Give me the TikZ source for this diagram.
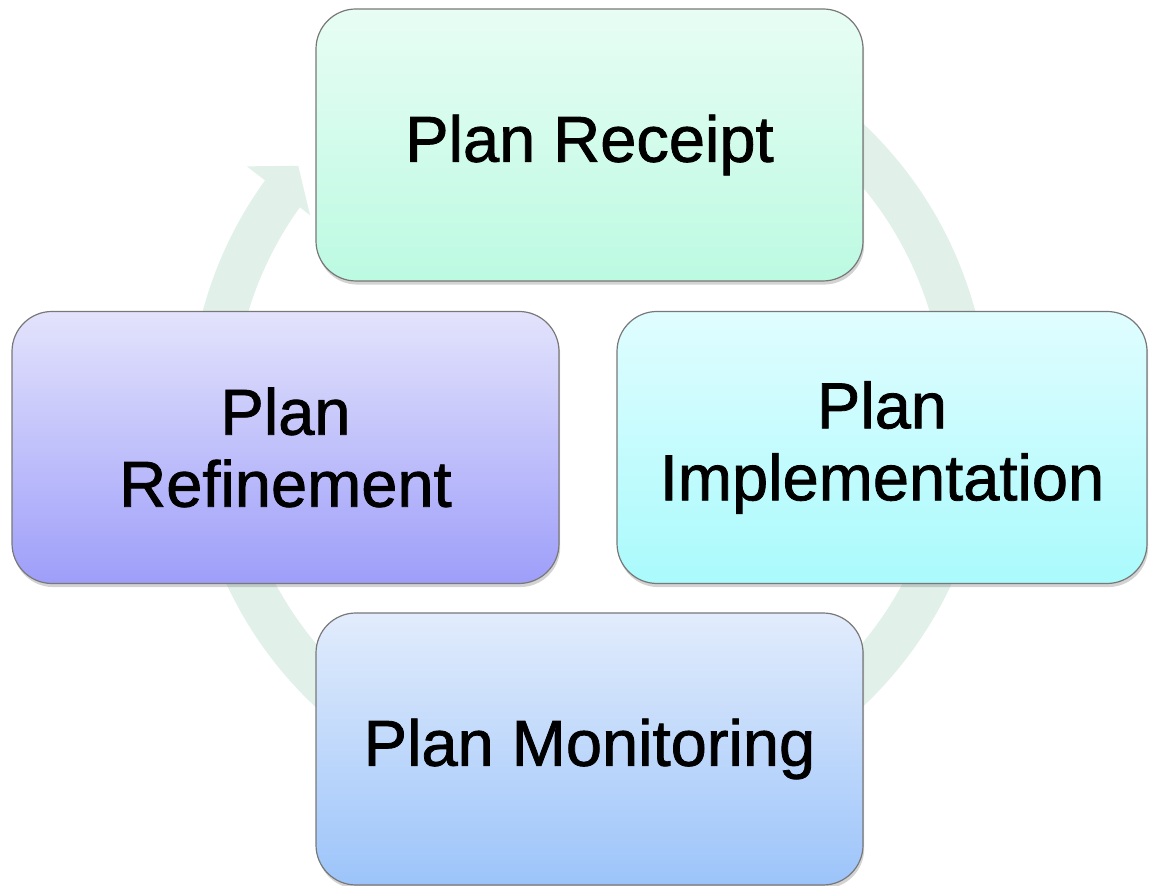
\documentclass[tikz,border=0pt]{standalone}
\usepackage{fontspec}
\setmainfont{Liberation Sans}
\newfontfamily\stagefont{Liberation Sans}[FakeBold=1.2]
\usetikzlibrary{shadows}

\definecolor{ringgreen}{RGB}{225,241,234}
\definecolor{stageline}{RGB}{120,120,120}
\definecolor{receiptTop}{RGB}{232,253,244}
\definecolor{receiptBot}{RGB}{188,250,226}
\definecolor{implTop}{RGB}{224,253,255}
\definecolor{implBot}{RGB}{170,250,252}
\definecolor{monTop}{RGB}{226,236,252}
\definecolor{monBot}{RGB}{156,196,250}
\definecolor{refTop}{RGB}{227,227,252}
\definecolor{refBot}{RGB}{158,158,250}

\begin{document}
\begin{tikzpicture}[
      x=0.5pt,
      y=0.5pt,
      stage/.style={draw=stageline, line width=0.6pt, rounded corners=20pt,
        minimum width=273.5pt, minimum height=136pt, align=center,
        font=\stagefont\fontsize{32.5}{36}\selectfont,
        drop shadow={shadow xshift=0.6pt, shadow yshift=-1.8pt, opacity=0.35}},
      ring/.style={draw=ringgreen, line width=22pt}]
    \useasboundingbox (0,0) rectangle (1149,886);
    \coordinate (hub) at (589,471);

    % cycle arrow behind the boxes
    \draw[ring] ([shift={(110:378)}]hub) arc[start angle=110, end angle=-216, radius=378];
    \fill[ringgreen] ([shift={(139.4:383)}]hub) -- ([shift={(144:423)}]hub)
      -- ([shift={(144.4:343)}]hub) -- cycle;

    \node[stage, top color=receiptTop, bottom color=receiptBot] (receipt) at (589.5, 741)   {Plan Receipt};
    \node[stage, top color=refTop, bottom color=refBot]         (refine)  at (285.5, 438.5) {Plan\\Refinement};
    \node[stage, top color=implTop, bottom color=implBot, minimum width=265pt]
                                                                (implement) at (882, 438.5) {Plan\\Implementation};
    \node[stage, top color=monTop, bottom color=monBot]         (monitor) at (589.5, 137)   {Plan Monitoring};

  \end{tikzpicture}
\end{document}
